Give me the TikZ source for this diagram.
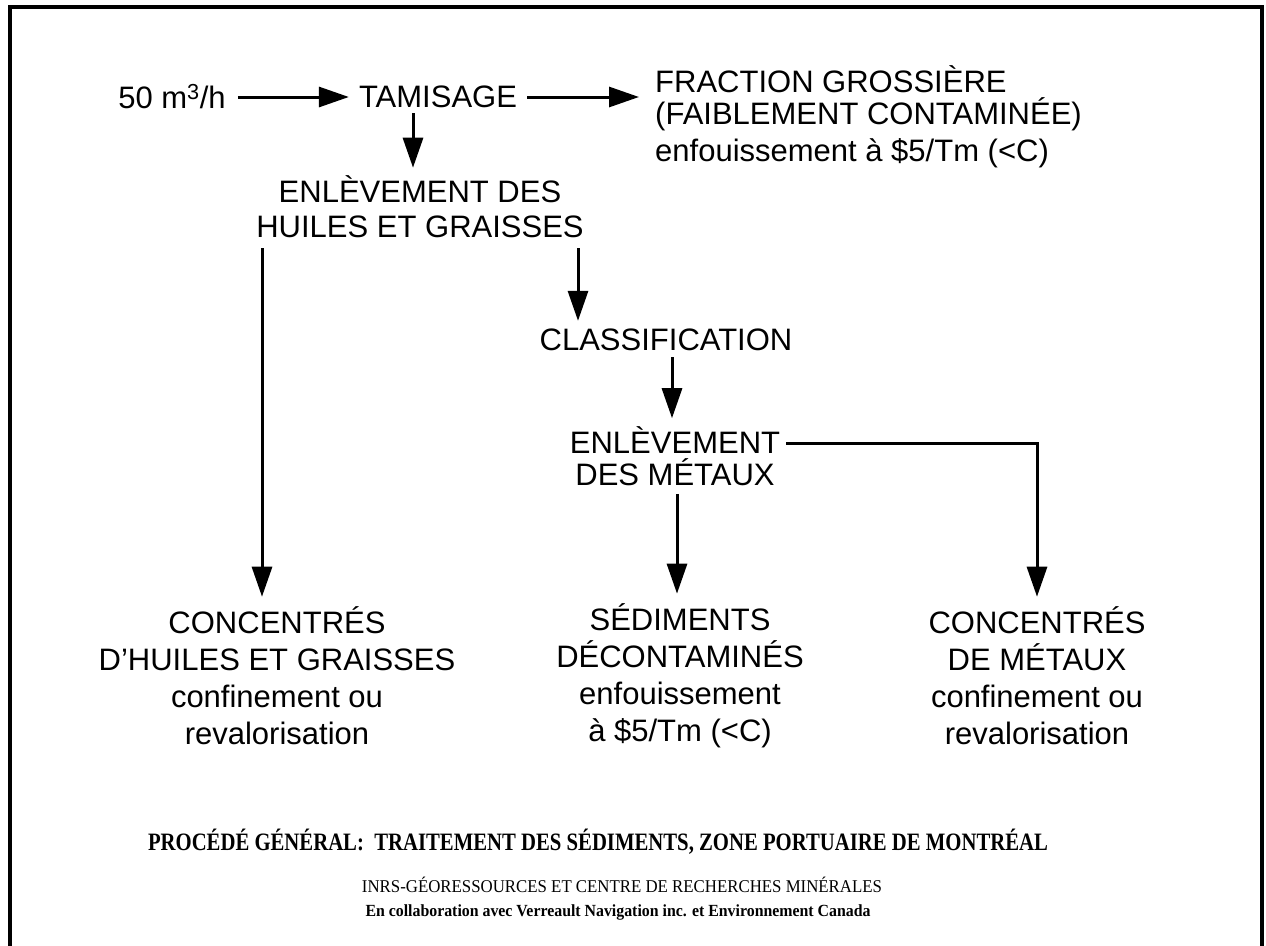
\documentclass[tikz,border=0pt]{standalone}
\usepackage{graphicx}
\usepackage{fontspec}
\setmainfont{Liberation Sans}
\newfontfamily\rmserif{Liberation Serif}
\usetikzlibrary{arrows.meta}
\tikzset{
  lbl/.style={inner sep=0pt, font=\fontsize{31}{35}\selectfont, align=center},
  arr/.style={line width=3pt, -{Triangle[length=30pt,width=20pt]}},
  frame/.style={line width=4pt},
}
\begin{document}
\begin{tikzpicture}[x=1pt,y=-1pt]
\useasboundingbox (0,0) rectangle (1266,945);
\clip (0,0) rectangle (1266,945);
\draw[frame] (10,960) -- (10,7) -- (1262,7) -- (1262,960);

\node[lbl] (in) at (172,97) {50 m\textsuperscript{3}/h};
\node[lbl] (tam) at (438,97) {TAMISAGE};
\node[lbl, align=left, anchor=west, font=\fontsize{31}{32}\selectfont] (frac) at (655,117)
  {FRACTION GROSSIÈRE\\(FAIBLEMENT CONTAMINÉE)\\[5pt]enfouissement à \$5/Tm (<C)};
\node[lbl] (enl1) at (420,207) {ENLÈVEMENT DES\\HUILES ET GRAISSES};
\node[lbl] (cls) at (666,340) {CLASSIFICATION};
\node[lbl, font=\fontsize{31}{32}\selectfont] (enl2) at (675,456) {ENLÈVEMENT\\DES MÉTAUX};
\node[lbl, font=\fontsize{31}{37}\selectfont] (c1) at (277,676)
  {CONCENTRÉS\\D\char"27 HUILES ET GRAISSES\\confinement ou\\revalorisation};
\node[lbl, font=\fontsize{31}{37}\selectfont] (sed) at (680,676)
  {SÉDIMENTS\\DÉCONTAMINÉS\\enfouissement\\à \$5/Tm (<C)};
\node[lbl, font=\fontsize{31}{37}\selectfont] (c2) at (1037,676)
  {CONCENTRÉS\\DE MÉTAUX\\confinement ou\\revalorisation};

\node[inner sep=0pt] (ttl) at (598,842)
  {\resizebox{900pt}{\height}{\rmserif\bfseries\fontsize{25}{26}\selectfont PROCÉDÉ GÉNÉRAL:\ \ TRAITEMENT DES SÉDIMENTS, ZONE PORTUAIRE DE MONTRÉAL}};
\node[inner sep=0pt] (inrs) at (622,885)
  {\resizebox{520pt}{\height}{\rmserif\fontsize{18}{20}\selectfont INRS-GÉORESSOURCES ET CENTRE DE RECHERCHES MINÉRALES}};
\node[inner sep=0pt] (collab) at (618,912)
  {\resizebox{505pt}{\height}{\rmserif\bfseries\fontsize{17}{19}\selectfont En collaboration avec Verreault Navigation inc. et Environnement Canada}};

\coordinate (a1) at (413,0);
\coordinate (a2) at (262,0);
\coordinate (a3) at (578,0);
\coordinate (a4) at (672,0);
\coordinate (a5) at (677,0);
\coordinate (h) at (0,443);

\draw[arr, shorten <=12pt, shorten >=10pt] (in.east) -- (tam.west);
\draw[arr, shorten <=10pt, shorten >=16pt] (tam.east) -- (frac.west |- tam.east);
\draw[arr, shorten <=5pt, shorten >=8pt] (tam.south -| a1) -- (enl1.north -| a1);
\draw[arr, shorten <=10pt, shorten >=10pt] (enl1.south -| a2) -- (c1.north -| a2);
\draw[arr, shorten <=10pt, shorten >=8pt] (enl1.south -| a3) -- (cls.north -| a3);
\draw[arr, shorten <=6pt, shorten >=8pt] (cls.south -| a4) -- (enl2.north -| a4);
\draw[arr, shorten <=8pt, shorten >=10pt] (enl2.south -| a5) -- (sed.north -| a5);
\draw[arr, shorten <=6pt, shorten >=10pt] (enl2.east |- h) -| (c2.north);
\end{tikzpicture}
\end{document}
